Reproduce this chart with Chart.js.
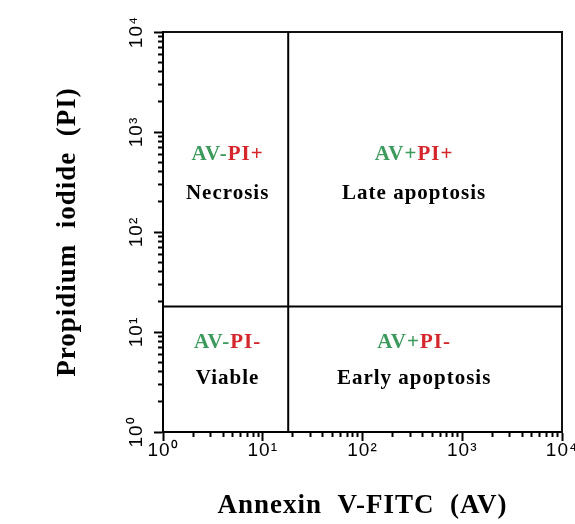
<!DOCTYPE html>
<html>
<head>
<meta charset="utf-8">
<style>
  html, body { margin: 0; padding: 0; background: #fff; }
  #wrap { width: 575px; height: 524px; }
</style>
</head>
<body>
<div id="wrap"><canvas id="quadrantChart"></canvas></div>

<script src="https://cdn.jsdelivr.net/npm/chart.js"></script>

<script>
  // log axes, both run 10^0 .. 10^4
  const axisMin = 1;
  const axisMax = 10000;
  const decadeTicks = [1, 10, 100, 1000, 10000];
  const decadeLabels = ['10⁰', '10¹', '10²', '10³', '10⁴'];
  const minorSteps = [2, 3, 4, 5, 6, 7, 8, 9];
  const minorTicks = decadeTicks.slice(0, -1).flatMap(d => minorSteps.map(m => m * d));

  // quadrant gate (AV on x, PI on y)
  const gateAV = 18;
  const gatePI = 18;

  // quadrants: top-left, top-right, bottom-left, bottom-right
  const avCodes = ['AV-', 'AV+', 'AV-', 'AV+'];
  const piCodes = ['PI+', 'PI+', 'PI-', 'PI-'];
  const quadrantNames = ['Necrosis', 'Late apoptosis', 'Viable', 'Early apoptosis'];

  const green = '#3c9a5c';
  const red = '#d5262c';
  const serif = 'Liberation Serif';
  const sans = 'Liberation Sans';

  // spaced-out lettering like the original figure
  const letterSpacing = {
    id: 'letterSpacing',
    beforeDraw(chart) { chart.ctx.letterSpacing = '1px'; },
    afterDraw(chart) { chart.ctx.letterSpacing = '0px'; }
  };

  const quadrantText = {
    id: 'quadrantText',
    afterDatasetsDraw(chart) {
      const { ctx, scales: { x, y } } = chart;
      const xl = x.getPixelForValue(axisMin), xg = x.getPixelForValue(gateAV), xr = x.getPixelForValue(axisMax);
      const yt = y.getPixelForValue(axisMax), yg = y.getPixelForValue(gatePI);
      const cols = [(xl + xg) / 2 + 2, (xg + xr) / 2 - 11];
      const rows = [[yt + 123, yt + 162], [yg + 36, yg + 72]];

      ctx.save();
      ctx.font = `bold 21px "${serif}"`;
      ctx.textBaseline = 'middle';
      quadrantNames.forEach((name, i) => {
        const cx = cols[i % 2];
        const [codeY, nameY] = rows[Math.floor(i / 2)];
        const w1 = ctx.measureText(avCodes[i]).width;
        const w2 = ctx.measureText(piCodes[i]).width;
        const start = cx - (w1 + w2) / 2;
        ctx.textAlign = 'left';
        ctx.fillStyle = green;
        ctx.fillText(avCodes[i], start, codeY);
        ctx.fillStyle = red;
        ctx.fillText(piCodes[i], start + w1, codeY);
        ctx.textAlign = 'center';
        ctx.fillStyle = '#000';
        ctx.fillText(name, cx, nameY);
      });
      ctx.restore();
    }
  };

  const decadeLabel = v => {
    const i = decadeTicks.indexOf(v);
    return i >= 0 ? decadeLabels[i] : '';
  };

  const majorTicks = s => { s.ticks = decadeTicks.map(v => ({ value: v })); };
  const smallTicks = s => { s.ticks = minorTicks.map(v => ({ value: v })); };

  const tickFont = { family: sans, size: 19, lineHeight: 1 };
  const titleFont = { family: serif, size: 27, weight: 'bold' };

  const ctx = document.getElementById('quadrantChart').getContext('2d');

  new Chart(ctx, {
    type: 'scatter',
    data: {
      datasets: [
        {
          data: [{ x: gateAV, y: axisMin }, { x: gateAV, y: axisMax }],
          showLine: true, borderColor: '#000', borderWidth: 2, pointRadius: 0
        },
        {
          data: [{ x: axisMin, y: gatePI }, { x: axisMax, y: gatePI }],
          showLine: true, borderColor: '#000', borderWidth: 2, pointRadius: 0
        }
      ]
    },
    options: {
      responsive: true,
      maintainAspectRatio: false,
      animation: false,
      layout: { padding: { left: 0, right: 13, top: 32, bottom: 0 } },
      plugins: {
        legend: { display: false },
        tooltip: { enabled: false }
      },
      scales: {
        x: {
          type: 'logarithmic', position: 'bottom', min: axisMin, max: axisMax,
          afterBuildTicks: majorTicks,
          afterFit: s => { s.height = 92; s.paddingLeft = 0; s.paddingRight = 0; },
          ticks: { callback: decadeLabel, font: tickFont, color: '#000', padding: 0, autoSkip: false, maxRotation: 0 },
          grid: { drawOnChartArea: false, tickLength: 9, tickWidth: 2, tickColor: '#000' },
          border: { color: '#000', width: 2 },
          title: { display: true, text: 'Annexin  V-FITC  (AV)', font: titleFont, color: '#000', padding: { top: 0, bottom: 2 } }
        },
        xMinor: {
          axis: 'x', type: 'logarithmic', position: { y: axisMin }, min: axisMin, max: axisMax,
          afterBuildTicks: smallTicks,
          ticks: { display: false },
          grid: { drawOnChartArea: false, tickLength: 5, tickWidth: 2, tickColor: '#000' },
          border: { display: false }
        },
        xTop: {
          axis: 'x', type: 'logarithmic', position: { y: axisMax }, min: axisMin, max: axisMax,
          ticks: { display: false },
          grid: { display: false },
          border: { color: '#111', width: 2 }
        },
        y: {
          type: 'logarithmic', position: 'left', min: axisMin, max: axisMax,
          afterBuildTicks: majorTicks,
          afterFit: s => { s.width = 163; s.paddingTop = 0; s.paddingBottom = 0; },
          ticks: { callback: decadeLabel, font: tickFont, color: '#000', padding: 3, autoSkip: false, minRotation: 90, maxRotation: 90, crossAlign: 'center' },
          grid: { drawOnChartArea: false, tickLength: 9, tickWidth: 2, tickColor: '#000' },
          border: { color: '#000', width: 2 },
          title: { display: true, text: 'Propidium  iodide  (PI)', font: titleFont, color: '#000', padding: { top: 52, bottom: 0 } }
        },
        yMinor: {
          axis: 'y', type: 'logarithmic', position: { x: axisMin }, min: axisMin, max: axisMax,
          afterBuildTicks: smallTicks,
          ticks: { display: false },
          grid: { drawOnChartArea: false, tickLength: 5, tickWidth: 2, tickColor: '#000' },
          border: { display: false }
        },
        yRight: {
          axis: 'y', type: 'logarithmic', position: { x: axisMax }, min: axisMin, max: axisMax,
          ticks: { display: false },
          grid: { display: false },
          border: { color: '#111', width: 2 }
        }
      }
    },
    plugins: [letterSpacing, quadrantText]
  });
</script>
</body>
</html>
